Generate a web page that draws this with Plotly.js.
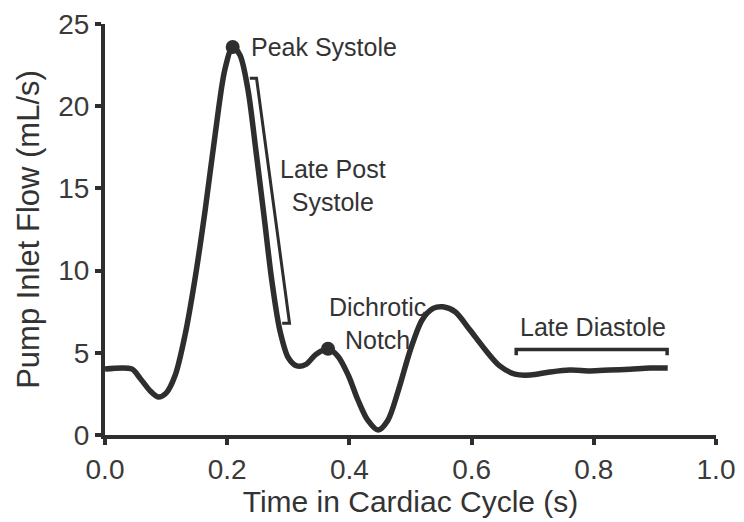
<!DOCTYPE html>
<html>
<head>
<meta charset="utf-8">
<script src="https://cdn.plot.ly/plotly-3.0.1.min.js"></script>
<style>html,body{margin:0;padding:0;background:#fff;}#chart{width:744px;height:522px;}</style>
</head>
<body>
<div id="chart"></div>
<script>
// Flow waveform
const timeS = [0, 0.044, 0.057, 0.074, 0.087, 0.10, 0.115, 0.131, 0.147, 0.164, 0.18, 0.196, 0.209, 0.221, 0.234, 0.247, 0.26, 0.273, 0.286, 0.30, 0.314, 0.329, 0.345, 0.365, 0.381, 0.398, 0.414, 0.43, 0.447, 0.463, 0.48, 0.50, 0.519, 0.537, 0.553, 0.573, 0.597, 0.622, 0.646, 0.671, 0.696, 0.728, 0.761, 0.794, 0.826, 0.859, 0.892, 0.921];
const flowMLs = [4.01, 4.01, 3.47, 2.68, 2.31, 2.55, 3.65, 6.08, 9.43, 13.7, 18.2, 22.2, 23.6, 23.1, 21.0, 17.3, 13.4, 9.4, 6.4, 4.7, 4.2, 4.3, 4.9, 5.23, 4.8, 3.65, 2.13, 0.9, 0.3, 0.9, 2.7, 5.2, 7.0, 7.7, 7.8, 7.5, 6.4, 5.2, 4.2, 3.7, 3.65, 3.83, 3.95, 3.9, 3.95, 4.0, 4.07, 4.07];

// Highlighted points
const eventNames = ["Peak Systole", "Dichrotic Notch"];
const eventTime = [0.209, 0.365];
const eventFlow = [23.6, 5.25];

// Bracket annotations
const postSystoleBracketX = [0.237, 0.248, 0.302, 0.290];
const postSystoleBracketY = [21.7, 21.7, 6.8, 6.8];
const diastoleBracketX = [0.673, 0.673, 0.92, 0.92];
const diastoleBracketY = [4.85, 5.2, 5.2, 4.85];

// Labels
const labelText = ["Peak Systole", "Late Post<br>Systole", "Dichrotic<br>Notch", "Late Diastole"];
const labelX = [0.235, 0.373, 0.446, 0.798];
const labelY = [23.6, 15.2, 6.8, 6.6];
const labelAnchor = ["left", "center", "center", "center"];

const xTicks = [0, 0.2, 0.4, 0.6, 0.8, 1.0];
const yTicks = [0, 5, 10, 15, 20, 25];

const ink = "#2e2e2e";
const font = "Liberation Sans, Arial, sans-serif";

const traces = [
  {x: timeS, y: flowMLs, mode: "lines", line: {color: ink, width: 5.5, shape: "spline", smoothing: 0.85}, hoverinfo: "skip"},
  {x: eventTime, y: eventFlow, mode: "markers", marker: {color: ink, size: 14}, text: eventNames, hoverinfo: "text"},
  {x: postSystoleBracketX, y: postSystoleBracketY, mode: "lines", line: {color: ink, width: 3}, hoverinfo: "skip"},
  {x: diastoleBracketX, y: diastoleBracketY, mode: "lines", line: {color: ink, width: 3.5}, hoverinfo: "skip"}
];

const annotations = labelText.map((t, i) => ({
  x: labelX[i], y: labelY[i], text: t, showarrow: false,
  xanchor: labelAnchor[i], yanchor: "middle",
  font: {family: font, size: 25, color: "#333"}
}));

const layout = {
  width: 744, height: 522,
  margin: {l: 105, r: 28, t: 24, b: 87},
  paper_bgcolor: "#fff", plot_bgcolor: "#fff",
  showlegend: false,
  font: {family: font, color: "#333"},
  xaxis: {
    range: [0, 1], tickvals: xTicks, tickformat: ".1f",
    showgrid: false, zeroline: false,
    showline: true, linecolor: ink, linewidth: 4,
    ticks: "outside", ticklen: 6, tickwidth: 4, tickcolor: ink,
    tickfont: {family: font, size: 28, color: "#3a3a3a"},
    title: {text: "Time in Cardiac Cycle (s)", font: {family: font, size: 30, color: "#333"}, standoff: 2}
  },
  yaxis: {
    range: [0, 25], tickvals: yTicks,
    showgrid: false, zeroline: false,
    showline: true, linecolor: ink, linewidth: 4,
    ticks: "outside", ticklen: 6, tickwidth: 4, tickcolor: ink,
    tickfont: {family: font, size: 28, color: "#3a3a3a"},
    title: {text: "Pump Inlet Flow (mL/s)", font: {family: font, size: 31, color: "#333"}, standoff: 10}
  },
  annotations: annotations
};

Plotly.newPlot("chart", traces, layout, {displayModeBar: false, staticPlot: true});
</script>
</body>
</html>
